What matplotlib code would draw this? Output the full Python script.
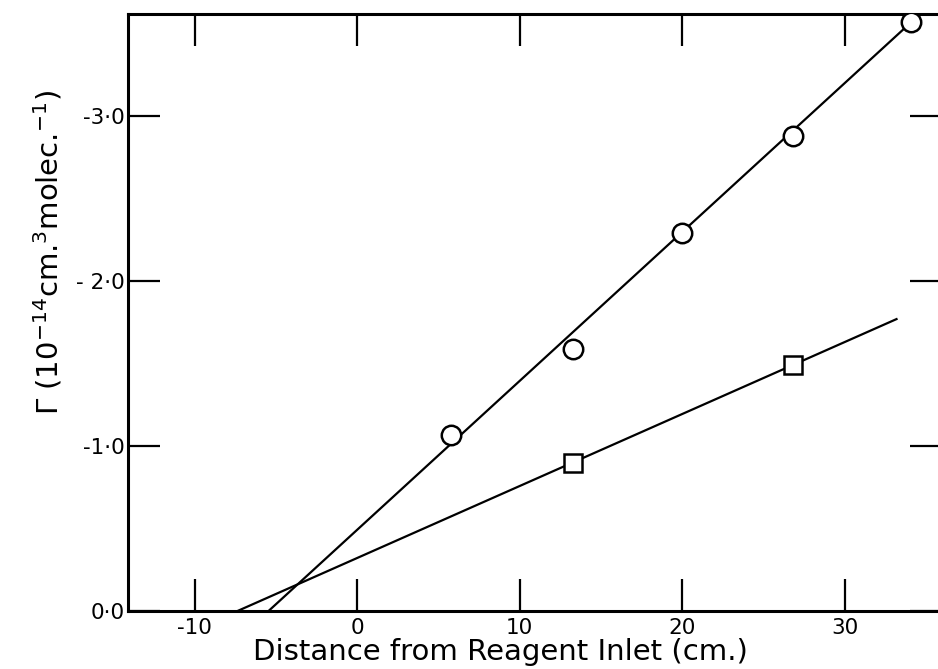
import matplotlib
matplotlib.use("Agg")
import matplotlib.pyplot as plt

# Circles: faster decay series; squares: slower series (y is negative, axis runs upward)
circle_x = [5.8, 13.3, 20.0, 26.8, 34.1]
circle_y = [-1.07, -1.59, -2.29, -2.88, -3.57]
square_x = [13.3, 26.8]
square_y = [-0.90, -1.49]

# fitted straight lines, drawn between their end points
circle_fit_x = [-5.45, 34.1]
circle_fit_y = [0.0, -3.57]
square_fit_x = [-7.36, 33.2]
square_fit_y = [0.0, -1.77]

x_ticks = [-10, 0, 10, 20, 30]
x_tick_labels = ["-10", "0", "10", "20", "30"]
y_ticks = [0.0, -1.0, -2.0, -3.0]
y_tick_labels = ["0·0", "-1·0", "- 2·0", "-3·0"]

plt.rcParams["font.family"] = ["DejaVu Sans"]

fig = plt.figure(figsize=(9.38, 6.69), dpi=100)
ax = fig.add_axes([128 / 938, 58 / 669, 814 / 938, 597 / 669])

ax.plot(circle_fit_x, circle_fit_y, color="black", lw=1.6, zorder=2)
ax.plot(square_fit_x, square_fit_y, color="black", lw=1.6, zorder=2)
ax.plot(circle_x, circle_y, "o", ms=14, mfc="white", mec="black", mew=1.8,
        linestyle="none", zorder=3)
ax.plot(square_x, square_y, "s", ms=13.5, mfc="white", mec="black", mew=1.8,
        linestyle="none", zorder=3)

ax.set_xlim(-14.1, 36.0)
ax.set_ylim(0.0, -3.62)

ax.set_xticks(x_ticks)
ax.set_xticklabels(x_tick_labels)
ax.set_yticks(y_ticks)
ax.set_yticklabels(y_tick_labels)

ax.tick_params(axis="both", direction="in", length=23, width=1.6,
               top=True, right=True, labelsize=15.5)
ax.tick_params(axis="x", pad=5)
ax.tick_params(axis="y", pad=2)

for side in ["left", "bottom", "top"]:
    ax.spines[side].set_linewidth(2.2)
ax.spines["right"].set_visible(False)

ax.set_xlabel("Distance from Reagent Inlet (cm.)", fontsize=21)
ax.xaxis.set_label_coords(0.457, -0.046)
ax.set_ylabel(r"Γ (10$^{-14}$cm.$^{3}$molec.$^{-1}$)", fontsize=21)
ax.yaxis.set_label_coords(-0.078, 0.6)

fig.savefig("out.png", dpi=100)
